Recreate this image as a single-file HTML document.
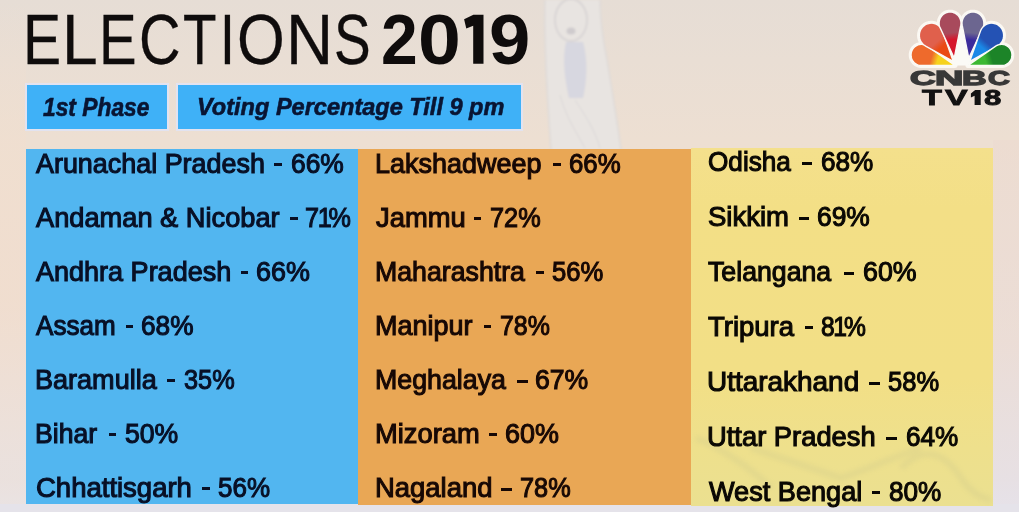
<!DOCTYPE html>
<html><head><meta charset="utf-8">
<style>
*{margin:0;padding:0;box-sizing:border-box}
html,body{width:1019px;height:512px;overflow:hidden}
body{position:relative;font-family:"Liberation Sans",sans-serif;background:linear-gradient(180deg,#e6ddd5 0px,#e9ded4 60px,#eddfd2 140px,#eddcd0 350px,#e8dcd6 480px,#e6e2e6 512px);color:#0f0c0c}
.abs{position:absolute}
.t{position:absolute;white-space:nowrap;line-height:1;transform-origin:0 0}
.box{position:absolute;background:#3fb1f7;border:2px solid #e2e3f0}
.col{position:absolute}
.ti{color:#0f0c0c}
.s{color:#091533}
.r1{color:#081026}
.r2{color:#170805}
.r3{color:#0a0804}
.lg1{color:#383838}
.lg2{color:#121212}
</style></head><body>
<div class="abs" style="left:0;top:0;width:26px;height:512px;background:linear-gradient(180deg,rgba(242,222,206,0) 0px,rgba(242,222,206,.55) 180px,rgba(242,222,206,.6) 300px,rgba(236,228,226,.6) 460px)"></div>
<div class="abs" style="left:993px;top:140px;width:26px;height:372px;background:linear-gradient(180deg,rgba(236,218,208,.6) 0px,rgba(234,222,220,.5) 200px,rgba(230,226,234,.8) 372px)"></div>
<div class="abs" style="left:0;top:504px;width:1019px;height:8px;background:#e5e3ea"></div>
<svg class="abs" style="left:0;top:0" width="1019" height="512" viewBox="0 0 1019 512">
<defs><filter id="bl1" x="-20%" y="-20%" width="140%" height="140%"><feGaussianBlur stdDeviation="1.2"/></filter></defs>
<g filter="url(#bl1)">
<path d="M545,0 C544,40 547,95 551,150 L621,150 C617,120 612,90 607,60 C603,40 600,15 600,0 Z" fill="#e8e4e1"/>
<path d="M545,0 C544,40 547,95 551,150" fill="none" stroke="#dedad8" stroke-width="1.5"/>
<path d="M600,0 C600,15 603,40 607,60 C612,90 617,120 621,150" fill="none" stroke="#dedad8" stroke-width="1.5"/>
<ellipse cx="571" cy="20" rx="16" ry="21" fill="none" stroke="#d8d4d4" stroke-width="1.8"/>
<ellipse cx="571" cy="31" rx="4.5" ry="3.5" fill="#cfcbcd"/>
<path d="M566,42 C562,60 565,80 569,98 L583,98 C587,80 588,60 583,42 Z" fill="#d5d5e0" opacity="0.9"/>
<path d="M560,95 C565,115 575,130 585,148 M575,100 C585,115 595,130 600,148" fill="none" stroke="#dedbdb" stroke-width="1.2"/>
</g>
</svg>
<div class="box" style="left:24.5px;top:83px;width:144px;height:47.5px"></div>
<div class="box" style="left:176px;top:83px;width:347px;height:47.5px"></div>
<div class="col" style="left:26px;top:149px;width:332px;height:355px;background:#52b6f0"></div>
<div class="col" style="left:358px;top:149px;width:333px;height:356px;background:#e9a755"></div>
<div class="col" style="left:691px;top:148px;width:302px;height:358px;background:linear-gradient(180deg,#f4e08c 0px,#f3df86 60px,#f2df86 230px,#eee08c 300px,#ebe090 358px)"></div>
<svg class="abs" style="left:691px;top:148px" width="302" height="358"><defs><filter id="bl2"><feGaussianBlur stdDeviation="2.5"/></filter></defs><g fill="none" stroke="#d6cf8c" stroke-width="6" opacity="0.45" filter="url(#bl2)"><path d="M5,290 C30,300 60,320 80,340"/><path d="M60,300 C90,310 120,320 150,330 C180,320 200,310 230,300"/><path d="M210,320 C230,300 250,300 270,330 C280,345 290,350 300,352"/></g></svg>
<svg class="abs" style="left:0;top:0" width="1019" height="120"><path d="M970.9,93.6 L975.2,90.1 L980.7,90.1 L980.7,105 L974.6,105 L974.6,95.8 L970.9,97.6 Z" fill="#121212"/><path d="M464.1,19.3 L473.4,14.8 L483.5,14.8 L483.5,63.8 L473.2,63.8 L473.2,25.8 L466.3,28.6 Z" fill="#0f0c0c"/></svg>
<svg class="abs" style="left:0;top:0" width="1019" height="512" viewBox="0 0 1019 512"><defs><linearGradient id="g0" gradientUnits="userSpaceOnUse" x1="912.9" y1="51.1" x2="955" y2="64"><stop offset="0" stop-color="#ee6a2c"/><stop offset="0.45" stop-color="#ee6a2c"/><stop offset="0.6" stop-color="#f6d21e"/><stop offset="1" stop-color="#f6d21e"/></linearGradient><linearGradient id="g1" gradientUnits="userSpaceOnUse" x1="924.5" y1="26.8" x2="953" y2="60"><stop offset="0" stop-color="#e0604c"/><stop offset="0.45" stop-color="#e0604c"/><stop offset="0.6" stop-color="#ea4a14"/><stop offset="1" stop-color="#ea4a14"/></linearGradient><linearGradient id="g2" gradientUnits="userSpaceOnUse" x1="948.7" y1="13.6" x2="954" y2="57"><stop offset="0" stop-color="#a84a5c"/><stop offset="0.45" stop-color="#a84a5c"/><stop offset="0.6" stop-color="#d6162c"/><stop offset="1" stop-color="#d6162c"/></linearGradient><linearGradient id="g3" gradientUnits="userSpaceOnUse" x1="973.3" y1="13.6" x2="968" y2="57"><stop offset="0" stop-color="#6c6690"/><stop offset="0.45" stop-color="#6c6690"/><stop offset="0.6" stop-color="#3c2c9c"/><stop offset="1" stop-color="#3c2c9c"/></linearGradient><linearGradient id="g4" gradientUnits="userSpaceOnUse" x1="997.5" y1="26.8" x2="969" y2="60"><stop offset="0" stop-color="#2452b4"/><stop offset="0.45" stop-color="#2452b4"/><stop offset="0.6" stop-color="#1a88e6"/><stop offset="1" stop-color="#1a88e6"/></linearGradient><linearGradient id="g5" gradientUnits="userSpaceOnUse" x1="1009.1" y1="51.1" x2="967" y2="64"><stop offset="0" stop-color="#1c8428"/><stop offset="0.45" stop-color="#1c8428"/><stop offset="0.6" stop-color="#3cb832"/><stop offset="1" stop-color="#3cb832"/></linearGradient></defs><g transform="translate(961.5,38) scale(1.04,1.06) translate(-961,-38)"><path d="M955.00,64.00 L928.12,45.73 L927.33,45.24 L926.49,44.83 L925.61,44.50 L924.71,44.25 L923.79,44.08 L922.86,44.01 L921.93,44.02 L921.00,44.11 L920.08,44.30 L919.19,44.56 L918.32,44.91 L917.49,45.34 L916.71,45.85 L915.97,46.43 L915.29,47.07 L914.68,47.77 L914.13,48.53 L913.66,49.33 L913.26,50.18 L912.94,51.06 L912.71,51.96 L912.56,52.89 L912.50,53.82 L912.53,54.75 L912.64,55.68 L912.84,56.59 L913.13,57.48 L913.49,58.34 L913.94,59.16 L914.46,59.94 L915.05,60.67 L915.70,61.33 L916.41,61.94 L917.18,62.47 L918.00,62.93 L918.85,63.31 L919.73,63.61 L920.64,63.83 L921.57,63.96 L922.50,64.00Z" fill="#fbf8f2" stroke="#fbf8f2" stroke-width="4.5" stroke-linejoin="round"/><path d="M953.00,60.00 L942.83,31.62 L942.40,30.59 L941.88,29.61 L941.26,28.68 L940.56,27.82 L939.78,27.03 L938.92,26.32 L938.00,25.69 L937.03,25.16 L936.01,24.72 L934.94,24.38 L933.86,24.15 L932.75,24.02 L931.64,24.01 L930.53,24.09 L929.44,24.29 L928.37,24.59 L927.33,24.99 L926.33,25.49 L925.39,26.09 L924.52,26.77 L923.71,27.53 L922.98,28.37 L922.33,29.28 L921.77,30.24 L921.31,31.25 L920.95,32.30 L920.70,33.39 L920.54,34.49 L920.50,35.60 L920.56,36.71 L920.73,37.81 L921.01,38.89 L921.39,39.93 L921.87,40.94 L922.44,41.89 L923.10,42.78 L923.85,43.61 L924.67,44.36 L925.56,45.03 L926.51,45.60Z" fill="#fbf8f2" stroke="#fbf8f2" stroke-width="4.5" stroke-linejoin="round"/><path d="M954.00,57.00 L960.29,26.09 L960.44,25.11 L960.50,24.12 L960.46,23.13 L960.33,22.14 L960.11,21.18 L959.80,20.23 L959.40,19.32 L958.92,18.46 L958.35,17.64 L957.72,16.88 L957.01,16.18 L956.24,15.55 L955.41,15.00 L954.54,14.53 L953.62,14.15 L952.68,13.85 L951.71,13.64 L950.72,13.52 L949.73,13.50 L948.74,13.58 L947.76,13.74 L946.80,14.00 L945.87,14.35 L944.97,14.78 L944.13,15.30 L943.33,15.89 L942.59,16.56 L941.92,17.29 L941.33,18.08 L940.81,18.93 L940.37,19.82 L940.02,20.75 L939.75,21.71 L939.58,22.68 L939.51,23.67 L939.52,24.67 L939.63,25.65 L939.83,26.63 L940.13,27.57 L940.51,28.49Z" fill="#fbf8f2" stroke="#fbf8f2" stroke-width="4.5" stroke-linejoin="round"/><path d="M968.00,57.00 L981.49,28.49 L981.87,27.57 L982.17,26.63 L982.37,25.65 L982.48,24.67 L982.49,23.67 L982.42,22.68 L982.25,21.71 L981.98,20.75 L981.63,19.82 L981.19,18.93 L980.67,18.08 L980.08,17.29 L979.41,16.56 L978.67,15.89 L977.87,15.30 L977.03,14.78 L976.13,14.35 L975.20,14.00 L974.24,13.74 L973.26,13.58 L972.27,13.50 L971.28,13.52 L970.29,13.64 L969.32,13.85 L968.38,14.15 L967.46,14.53 L966.59,15.00 L965.76,15.55 L964.99,16.18 L964.28,16.88 L963.65,17.64 L963.08,18.46 L962.60,19.32 L962.20,20.23 L961.89,21.18 L961.67,22.14 L961.54,23.13 L961.50,24.12 L961.56,25.11 L961.71,26.09Z" fill="#fbf8f2" stroke="#fbf8f2" stroke-width="4.5" stroke-linejoin="round"/><path d="M969.00,60.00 L995.49,45.60 L996.44,45.03 L997.33,44.36 L998.15,43.61 L998.90,42.78 L999.56,41.89 L1000.13,40.94 L1000.61,39.93 L1000.99,38.89 L1001.27,37.81 L1001.44,36.71 L1001.50,35.60 L1001.46,34.49 L1001.30,33.39 L1001.05,32.30 L1000.69,31.25 L1000.23,30.24 L999.67,29.28 L999.02,28.37 L998.29,27.53 L997.48,26.77 L996.61,26.09 L995.67,25.49 L994.67,24.99 L993.63,24.59 L992.56,24.29 L991.47,24.09 L990.36,24.01 L989.25,24.02 L988.14,24.15 L987.06,24.38 L985.99,24.72 L984.97,25.16 L984.00,25.69 L983.08,26.32 L982.22,27.03 L981.44,27.82 L980.74,28.68 L980.12,29.61 L979.60,30.59 L979.17,31.62Z" fill="#fbf8f2" stroke="#fbf8f2" stroke-width="4.5" stroke-linejoin="round"/><path d="M967.00,64.00 L999.50,64.00 L1000.43,63.96 L1001.36,63.83 L1002.27,63.61 L1003.15,63.31 L1004.00,62.93 L1004.82,62.47 L1005.59,61.94 L1006.30,61.33 L1006.95,60.67 L1007.54,59.94 L1008.06,59.16 L1008.51,58.34 L1008.87,57.48 L1009.16,56.59 L1009.36,55.68 L1009.47,54.75 L1009.50,53.82 L1009.44,52.89 L1009.29,51.96 L1009.06,51.06 L1008.74,50.18 L1008.34,49.33 L1007.87,48.53 L1007.32,47.77 L1006.71,47.07 L1006.03,46.43 L1005.29,45.85 L1004.51,45.34 L1003.68,44.91 L1002.81,44.56 L1001.92,44.30 L1001.00,44.11 L1000.07,44.02 L999.14,44.01 L998.21,44.08 L997.29,44.25 L996.39,44.50 L995.51,44.83 L994.67,45.24 L993.88,45.73Z" fill="#fbf8f2" stroke="#fbf8f2" stroke-width="4.5" stroke-linejoin="round"/><path d="M961,23 L951,64 L971,64Z" fill="#fbfaf6"/><path d="M955.00,64.00 L928.12,45.73 L927.33,45.24 L926.49,44.83 L925.61,44.50 L924.71,44.25 L923.79,44.08 L922.86,44.01 L921.93,44.02 L921.00,44.11 L920.08,44.30 L919.19,44.56 L918.32,44.91 L917.49,45.34 L916.71,45.85 L915.97,46.43 L915.29,47.07 L914.68,47.77 L914.13,48.53 L913.66,49.33 L913.26,50.18 L912.94,51.06 L912.71,51.96 L912.56,52.89 L912.50,53.82 L912.53,54.75 L912.64,55.68 L912.84,56.59 L913.13,57.48 L913.49,58.34 L913.94,59.16 L914.46,59.94 L915.05,60.67 L915.70,61.33 L916.41,61.94 L917.18,62.47 L918.00,62.93 L918.85,63.31 L919.73,63.61 L920.64,63.83 L921.57,63.96 L922.50,64.00Z" fill="url(#g0)" stroke="#fbfaf6" stroke-width="1.3" stroke-linejoin="round"/><path d="M953.00,60.00 L942.83,31.62 L942.40,30.59 L941.88,29.61 L941.26,28.68 L940.56,27.82 L939.78,27.03 L938.92,26.32 L938.00,25.69 L937.03,25.16 L936.01,24.72 L934.94,24.38 L933.86,24.15 L932.75,24.02 L931.64,24.01 L930.53,24.09 L929.44,24.29 L928.37,24.59 L927.33,24.99 L926.33,25.49 L925.39,26.09 L924.52,26.77 L923.71,27.53 L922.98,28.37 L922.33,29.28 L921.77,30.24 L921.31,31.25 L920.95,32.30 L920.70,33.39 L920.54,34.49 L920.50,35.60 L920.56,36.71 L920.73,37.81 L921.01,38.89 L921.39,39.93 L921.87,40.94 L922.44,41.89 L923.10,42.78 L923.85,43.61 L924.67,44.36 L925.56,45.03 L926.51,45.60Z" fill="url(#g1)" stroke="#fbfaf6" stroke-width="1.3" stroke-linejoin="round"/><path d="M954.00,57.00 L960.29,26.09 L960.44,25.11 L960.50,24.12 L960.46,23.13 L960.33,22.14 L960.11,21.18 L959.80,20.23 L959.40,19.32 L958.92,18.46 L958.35,17.64 L957.72,16.88 L957.01,16.18 L956.24,15.55 L955.41,15.00 L954.54,14.53 L953.62,14.15 L952.68,13.85 L951.71,13.64 L950.72,13.52 L949.73,13.50 L948.74,13.58 L947.76,13.74 L946.80,14.00 L945.87,14.35 L944.97,14.78 L944.13,15.30 L943.33,15.89 L942.59,16.56 L941.92,17.29 L941.33,18.08 L940.81,18.93 L940.37,19.82 L940.02,20.75 L939.75,21.71 L939.58,22.68 L939.51,23.67 L939.52,24.67 L939.63,25.65 L939.83,26.63 L940.13,27.57 L940.51,28.49Z" fill="url(#g2)" stroke="#fbfaf6" stroke-width="1.3" stroke-linejoin="round"/><path d="M968.00,57.00 L981.49,28.49 L981.87,27.57 L982.17,26.63 L982.37,25.65 L982.48,24.67 L982.49,23.67 L982.42,22.68 L982.25,21.71 L981.98,20.75 L981.63,19.82 L981.19,18.93 L980.67,18.08 L980.08,17.29 L979.41,16.56 L978.67,15.89 L977.87,15.30 L977.03,14.78 L976.13,14.35 L975.20,14.00 L974.24,13.74 L973.26,13.58 L972.27,13.50 L971.28,13.52 L970.29,13.64 L969.32,13.85 L968.38,14.15 L967.46,14.53 L966.59,15.00 L965.76,15.55 L964.99,16.18 L964.28,16.88 L963.65,17.64 L963.08,18.46 L962.60,19.32 L962.20,20.23 L961.89,21.18 L961.67,22.14 L961.54,23.13 L961.50,24.12 L961.56,25.11 L961.71,26.09Z" fill="url(#g3)" stroke="#fbfaf6" stroke-width="1.3" stroke-linejoin="round"/><path d="M969.00,60.00 L995.49,45.60 L996.44,45.03 L997.33,44.36 L998.15,43.61 L998.90,42.78 L999.56,41.89 L1000.13,40.94 L1000.61,39.93 L1000.99,38.89 L1001.27,37.81 L1001.44,36.71 L1001.50,35.60 L1001.46,34.49 L1001.30,33.39 L1001.05,32.30 L1000.69,31.25 L1000.23,30.24 L999.67,29.28 L999.02,28.37 L998.29,27.53 L997.48,26.77 L996.61,26.09 L995.67,25.49 L994.67,24.99 L993.63,24.59 L992.56,24.29 L991.47,24.09 L990.36,24.01 L989.25,24.02 L988.14,24.15 L987.06,24.38 L985.99,24.72 L984.97,25.16 L984.00,25.69 L983.08,26.32 L982.22,27.03 L981.44,27.82 L980.74,28.68 L980.12,29.61 L979.60,30.59 L979.17,31.62Z" fill="url(#g4)" stroke="#fbfaf6" stroke-width="1.3" stroke-linejoin="round"/><path d="M967.00,64.00 L999.50,64.00 L1000.43,63.96 L1001.36,63.83 L1002.27,63.61 L1003.15,63.31 L1004.00,62.93 L1004.82,62.47 L1005.59,61.94 L1006.30,61.33 L1006.95,60.67 L1007.54,59.94 L1008.06,59.16 L1008.51,58.34 L1008.87,57.48 L1009.16,56.59 L1009.36,55.68 L1009.47,54.75 L1009.50,53.82 L1009.44,52.89 L1009.29,51.96 L1009.06,51.06 L1008.74,50.18 L1008.34,49.33 L1007.87,48.53 L1007.32,47.77 L1006.71,47.07 L1006.03,46.43 L1005.29,45.85 L1004.51,45.34 L1003.68,44.91 L1002.81,44.56 L1001.92,44.30 L1001.00,44.11 L1000.07,44.02 L999.14,44.01 L998.21,44.08 L997.29,44.25 L996.39,44.50 L995.51,44.83 L994.67,45.24 L993.88,45.73Z" fill="url(#g5)" stroke="#fbfaf6" stroke-width="1.3" stroke-linejoin="round"/></g></svg>
<div class="t ti" style="left:22.76px;top:4.60px;font-size:70.8px;-webkit-text-stroke:0.3px currentColor;transform:scaleX(0.8066)">E</div>
<div class="t ti" style="left:62.06px;top:4.60px;font-size:70.8px;-webkit-text-stroke:0.3px currentColor;transform:scaleX(0.9065)">L</div>
<div class="t ti" style="left:98.97px;top:4.60px;font-size:70.8px;-webkit-text-stroke:0.3px currentColor;transform:scaleX(0.7961)">E</div>
<div class="t ti" style="left:139.37px;top:4.60px;font-size:70.8px;-webkit-text-stroke:0.3px currentColor;transform:scaleX(0.8111)">C</div>
<div class="t ti" style="left:182.82px;top:4.60px;font-size:70.8px;-webkit-text-stroke:0.3px currentColor;transform:scaleX(0.7756)">T</div>
<div class="t ti" style="left:220.26px;top:4.60px;font-size:70.8px;-webkit-text-stroke:0.3px currentColor;transform:scaleX(0.7571)">I</div>
<div class="t ti" style="left:237.40px;top:4.60px;font-size:70.8px;-webkit-text-stroke:0.3px currentColor;transform:scaleX(0.8673)">O</div>
<div class="t ti" style="left:285.72px;top:4.60px;font-size:70.8px;-webkit-text-stroke:0.3px currentColor;transform:scaleX(0.9213)">N</div>
<div class="t ti" style="left:333.92px;top:4.60px;font-size:70.8px;-webkit-text-stroke:0.3px currentColor;transform:scaleX(0.7768)">S</div>
<div class="t ti" style="left:381.44px;top:4.80px;font-size:70.8px;font-weight:bold;transform:scaleX(0.9314)">2</div>
<div class="t ti" style="left:418.44px;top:4.80px;font-size:70.8px;font-weight:bold;transform:scaleX(1.0879)">0</div>
<div class="t ti" style="left:488.90px;top:4.80px;font-size:70.8px;font-weight:bold;transform:scaleX(1.0486)">9</div>
<div class="t lg1" style="left:910.40px;top:68.40px;font-size:20.6px;font-weight:bold;-webkit-text-stroke:1.3px currentColor;transform:scaleX(1.7267)">C</div>
<div class="t lg1" style="left:935.49px;top:68.40px;font-size:20.6px;font-weight:bold;-webkit-text-stroke:1.3px currentColor;transform:scaleX(1.9077)">N</div>
<div class="t lg1" style="left:962.24px;top:68.40px;font-size:20.6px;font-weight:bold;-webkit-text-stroke:1.3px currentColor;transform:scaleX(1.6571)">B</div>
<div class="t lg1" style="left:988.20px;top:68.40px;font-size:20.6px;font-weight:bold;-webkit-text-stroke:1.3px currentColor;transform:scaleX(1.4733)">C</div>
<div class="t lg2" style="left:922.00px;top:86.60px;font-size:21.2px;font-weight:bold;-webkit-text-stroke:0.8px currentColor;transform:scaleX(1.5385)">T</div>
<div class="t lg2" style="left:944.80px;top:86.60px;font-size:21.2px;font-weight:bold;-webkit-text-stroke:0.8px currentColor;transform:scaleX(1.6000)">V</div>
<div class="t lg2" style="left:984.40px;top:86.60px;font-size:21.2px;font-weight:bold;-webkit-text-stroke:0.8px currentColor;transform:scaleX(1.4750)">8</div>
<div class="t s" style="left:43.10px;top:95.00px;font-size:25px;font-weight:bold;font-style:italic;-webkit-text-stroke:0.6px currentColor;transform:scaleX(0.9121)">1st Phase</div>
<div class="t s" style="left:196.86px;top:94.60px;font-size:24.3px;font-weight:bold;font-style:italic;-webkit-text-stroke:0.6px currentColor;transform:scaleX(0.9689)">Voting Percentage Till 9 pm</div>
<div class="t r1" style="left:36.30px;top:150.00px;font-size:27.9px;-webkit-text-stroke:1.1px currentColor;;transform:scaleX(0.9648)">Arunachal Pradesh</div>
<div class="t r1" style="left:290.85px;top:150.00px;font-size:27.9px;-webkit-text-stroke:1.1px currentColor;;transform:scaleX(0.9463)">66%</div>
<div class="t r1" style="left:36.30px;top:204.00px;font-size:27.9px;-webkit-text-stroke:1.1px currentColor;;transform:scaleX(0.9760)">Andaman &amp; Nicobar</div>
<div class="t r1" style="left:305.10px;top:204.00px;font-size:27.9px;-webkit-text-stroke:1.1px currentColor;;transform:scaleX(0.9020)">7<span style="margin:0 -3.5px 0 -1.5px">1</span>%</div>
<div class="t r1" style="left:36.30px;top:258.00px;font-size:27.9px;-webkit-text-stroke:1.1px currentColor;;transform:scaleX(0.9685)">Andhra Pradesh</div>
<div class="t r1" style="left:256.04px;top:258.00px;font-size:27.9px;-webkit-text-stroke:1.1px currentColor;;transform:scaleX(0.9648)">66%</div>
<div class="t r1" style="left:36.10px;top:312.00px;font-size:27.9px;-webkit-text-stroke:1.1px currentColor;;transform:scaleX(0.9345)">Assam</div>
<div class="t r1" style="left:141.46px;top:312.00px;font-size:27.9px;-webkit-text-stroke:1.1px currentColor;;transform:scaleX(0.9407)">68%</div>
<div class="t r1" style="left:35.46px;top:366.00px;font-size:27.9px;-webkit-text-stroke:1.1px currentColor;;transform:scaleX(0.9694)">Baramulla</div>
<div class="t r1" style="left:183.69px;top:366.00px;font-size:27.9px;-webkit-text-stroke:1.1px currentColor;;transform:scaleX(0.9074)">35%</div>
<div class="t r1" style="left:35.49px;top:420.00px;font-size:27.9px;-webkit-text-stroke:1.1px currentColor;;transform:scaleX(0.9540)">Bihar</div>
<div class="t r1" style="left:124.75px;top:420.00px;font-size:27.9px;-webkit-text-stroke:1.1px currentColor;;transform:scaleX(0.9537)">50%</div>
<div class="t r1" style="left:35.91px;top:474.00px;font-size:27.9px;-webkit-text-stroke:1.1px currentColor;;transform:scaleX(0.9859)">Chhattisgarh</div>
<div class="t r1" style="left:217.97px;top:474.00px;font-size:27.9px;-webkit-text-stroke:1.1px currentColor;;transform:scaleX(0.9315)">56%</div>
<div class="t r2" style="left:374.97px;top:150.00px;font-size:27.9px;-webkit-text-stroke:1.1px currentColor;;transform:scaleX(0.9671)">Lakshadweep</div>
<div class="t r2" style="left:568.57px;top:150.00px;font-size:27.9px;-webkit-text-stroke:1.1px currentColor;;transform:scaleX(0.9259)">66%</div>
<div class="t r2" style="left:375.70px;top:204.00px;font-size:27.9px;-webkit-text-stroke:1.1px currentColor;;transform:scaleX(0.9811)">Jammu</div>
<div class="t r2" style="left:490.09px;top:204.00px;font-size:27.9px;-webkit-text-stroke:1.1px currentColor;;transform:scaleX(0.9074)">72%</div>
<div class="t r2" style="left:374.99px;top:258.00px;font-size:27.9px;-webkit-text-stroke:1.1px currentColor;;transform:scaleX(0.9574)">Maharashtra</div>
<div class="t r2" style="left:552.08px;top:258.00px;font-size:27.9px;-webkit-text-stroke:1.1px currentColor;;transform:scaleX(0.9185)">56%</div>
<div class="t r2" style="left:374.97px;top:312.00px;font-size:27.9px;-webkit-text-stroke:1.1px currentColor;;transform:scaleX(0.9667)">Manipur</div>
<div class="t r2" style="left:499.91px;top:312.00px;font-size:27.9px;-webkit-text-stroke:1.1px currentColor;;transform:scaleX(0.8944)">78%</div>
<div class="t r2" style="left:374.98px;top:366.00px;font-size:27.9px;-webkit-text-stroke:1.1px currentColor;;transform:scaleX(0.9593)">Meghalaya</div>
<div class="t r2" style="left:534.95px;top:366.00px;font-size:27.9px;-webkit-text-stroke:1.1px currentColor;;transform:scaleX(0.9537)">67%</div>
<div class="t r2" style="left:374.94px;top:420.00px;font-size:27.9px;-webkit-text-stroke:1.1px currentColor;;transform:scaleX(0.9788)">Mizoram</div>
<div class="t r2" style="left:505.44px;top:420.00px;font-size:27.9px;-webkit-text-stroke:1.1px currentColor;;transform:scaleX(0.9648)">60%</div>
<div class="t r2" style="left:374.93px;top:474.00px;font-size:27.9px;-webkit-text-stroke:1.1px currentColor;;transform:scaleX(0.9836)">Nagaland</div>
<div class="t r2" style="left:520.29px;top:474.00px;font-size:27.9px;-webkit-text-stroke:1.1px currentColor;;transform:scaleX(0.9074)">78%</div>
<div class="t r3" style="left:707.96px;top:148.00px;font-size:27.7px;-webkit-text-stroke:1.1px currentColor;;transform:scaleX(0.9448)">Odisha</div>
<div class="t r3" style="left:820.86px;top:148.00px;font-size:27.7px;-webkit-text-stroke:1.1px currentColor;;transform:scaleX(0.9444)">68%</div>
<div class="t r3" style="left:707.91px;top:203.00px;font-size:27.7px;-webkit-text-stroke:1.1px currentColor;;transform:scaleX(0.9937)">Sikkim</div>
<div class="t r3" style="left:817.15px;top:203.00px;font-size:27.7px;-webkit-text-stroke:1.1px currentColor;;transform:scaleX(0.9537)">69%</div>
<div class="t r3" style="left:708.40px;top:258.00px;font-size:27.7px;-webkit-text-stroke:1.1px currentColor;;transform:scaleX(0.9643)">Telangana</div>
<div class="t r3" style="left:863.03px;top:258.00px;font-size:27.7px;-webkit-text-stroke:1.1px currentColor;;transform:scaleX(0.9667)">60%</div>
<div class="t r3" style="left:708.40px;top:313.00px;font-size:27.7px;-webkit-text-stroke:1.1px currentColor;;transform:scaleX(0.9931)">Tripura</div>
<div class="t r3" style="left:821.41px;top:313.00px;font-size:27.7px;-webkit-text-stroke:1.1px currentColor;;transform:scaleX(0.8898)">8<span style="margin:0 -3.5px 0 -1.5px">1</span>%</div>
<div class="t r3" style="left:707.08px;top:368.00px;font-size:27.7px;-webkit-text-stroke:1.1px currentColor;;transform:scaleX(1.0088)">Uttarakhand</div>
<div class="t r3" style="left:888.08px;top:368.00px;font-size:27.7px;-webkit-text-stroke:1.1px currentColor;;transform:scaleX(0.9222)">58%</div>
<div class="t r3" style="left:707.12px;top:423.00px;font-size:27.7px;-webkit-text-stroke:1.1px currentColor;;transform:scaleX(0.9875)">Uttar Pradesh</div>
<div class="t r3" style="left:905.96px;top:423.00px;font-size:27.7px;-webkit-text-stroke:1.1px currentColor;;transform:scaleX(0.9444)">64%</div>
<div class="t r3" style="left:709.10px;top:478.00px;font-size:27.7px;-webkit-text-stroke:1.1px currentColor;;transform:scaleX(0.9794)">West Bengal</div>
<div class="t r3" style="left:888.86px;top:478.00px;font-size:27.7px;-webkit-text-stroke:1.1px currentColor;;transform:scaleX(0.9444)">80%</div>
<div class="abs" style="left:273.8px;top:163.05px;width:8.2px;height:3.3px;background:#081026"></div>
<div class="abs" style="left:290.1px;top:217.05px;width:8.1px;height:3.3px;background:#081026"></div>
<div class="abs" style="left:241.0px;top:271.05px;width:7.4px;height:3.3px;background:#081026"></div>
<div class="abs" style="left:125.7px;top:325.05px;width:7.3px;height:3.3px;background:#081026"></div>
<div class="abs" style="left:167.4px;top:379.05px;width:7.8px;height:3.3px;background:#081026"></div>
<div class="abs" style="left:108.5px;top:433.05px;width:7.9px;height:3.3px;background:#081026"></div>
<div class="abs" style="left:201.7px;top:487.05px;width:7.9px;height:3.3px;background:#081026"></div>
<div class="abs" style="left:552.8px;top:163.05px;width:8.1px;height:3.3px;background:#170805"></div>
<div class="abs" style="left:473.8px;top:217.05px;width:7.4px;height:3.3px;background:#170805"></div>
<div class="abs" style="left:535.9px;top:271.05px;width:7.8px;height:3.3px;background:#170805"></div>
<div class="abs" style="left:483.6px;top:325.05px;width:7.9px;height:3.3px;background:#170805"></div>
<div class="abs" style="left:516.8px;top:379.80px;width:11.0px;height:3.0px;background:#170805"></div>
<div class="abs" style="left:489.3px;top:433.05px;width:7.3px;height:3.3px;background:#170805"></div>
<div class="abs" style="left:500.8px;top:487.80px;width:11.5px;height:3.0px;background:#170805"></div>
<div class="abs" style="left:801.6px;top:161.80px;width:10.4px;height:3.0px;background:#0a0804"></div>
<div class="abs" style="left:798.5px;top:216.80px;width:10.5px;height:3.0px;background:#0a0804"></div>
<div class="abs" style="left:843.8px;top:271.80px;width:10.3px;height:3.0px;background:#0a0804"></div>
<div class="abs" style="left:805.1px;top:326.05px;width:8.1px;height:3.3px;background:#0a0804"></div>
<div class="abs" style="left:868.6px;top:381.80px;width:11.5px;height:3.0px;background:#0a0804"></div>
<div class="abs" style="left:885.7px;top:436.80px;width:10.9px;height:3.0px;background:#0a0804"></div>
<div class="abs" style="left:871.9px;top:491.05px;width:8.2px;height:3.3px;background:#0a0804"></div>
</body></html>
